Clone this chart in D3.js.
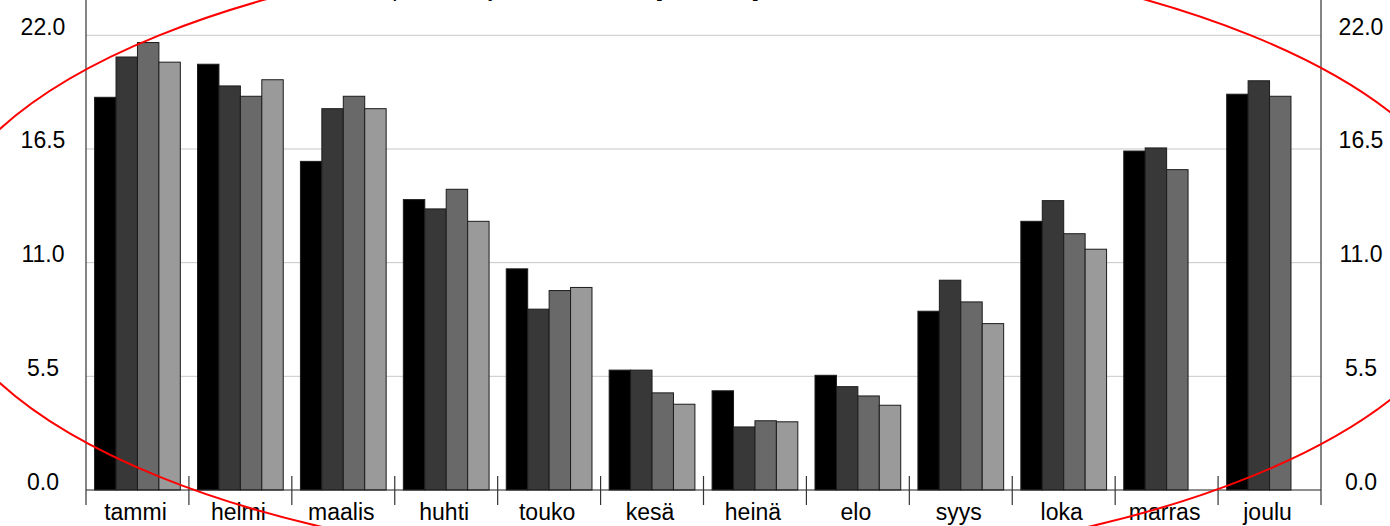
<!DOCTYPE html>
<html>
<head>
<meta charset="utf-8">
<script src="https://cdn.jsdelivr.net/npm/d3@7"></script>
<style>
  body { margin: 0; background: #fff; }
  svg { display: block; font-family: "Liberation Sans", Arial, sans-serif; }
</style>
</head>
<body>
<div id="chart"></div>
<script>
const width = 1390;
const height = 526;

const months = ["tammi", "helmi", "maalis", "huhti", "touko", "kesä",
    "heinä", "elo", "syys", "loka", "marras", "joulu"];
const seriesNames = ["s1", "s2", "s3", "s4"];
const colors = ["#000000", "#383838", "#696969", "#9a9a9a"];

// values per series, one per month (null = no bar)
const s1 = [19.0, 20.6, 15.9, 14.05, 10.7, 5.8, 4.8, 5.55, 8.65, 13.0, 16.4, 19.15];
const s2 = [20.95, 19.55, 18.45, 13.6, 8.75, 5.8, 3.05, 5.0, 10.15, 14.0, 16.55, 19.8];
const s3 = [21.65, 19.05, 19.05, 14.55, 9.65, 4.7, 3.35, 4.55, 9.1, 12.4, 15.5, 19.05];
const s4 = [20.7, 19.85, 18.45, 13.0, 9.8, 4.15, 3.3, 4.1, 8.05, 11.65, null, null];
const seriesValues = [s1, s2, s3, s4];

const yTicks = [0.0, 5.5, 11.0, 16.5, 22.0];
const titleText = "Lämmön kulutus päivässä ja kuukaudessa [MWh/vrk]";

const plotLeft = 86;
const plotRight = 1321;
const baseY = 490;

const svg = d3.select("#chart").append("svg")
    .attr("width", width)
    .attr("height", height);

const x0 = d3.scaleBand()
    .domain(months)
    .range([plotLeft, plotRight]);

const groupPad = x0.bandwidth() * 0.0835;
const x1 = d3.scaleBand()
    .domain(seriesNames)
    .range([groupPad, x0.bandwidth() - groupPad]);

const y = d3.scaleLinear()
    .domain([0, 22])
    .range([baseY, 35.3]);

// gridlines
svg.append("g")
    .selectAll("line")
    .data(yTicks.filter(d => d > 0))
    .enter().append("line")
    .attr("x1", plotLeft)
    .attr("x2", plotRight)
    .attr("y1", d => y(d))
    .attr("y2", d => y(d))
    .style("stroke", "#c8c8c8")
    .style("stroke-width", 1);

// bars
const rows = [];
seriesNames.forEach((s, si) => {
    months.forEach((m, mi) => {
        const v = seriesValues[si][mi];
        if (v != null) rows.push({ month: m, series: s, value: v, color: colors[si] });
    });
});

svg.append("g")
    .selectAll("rect")
    .data(rows)
    .enter().append("rect")
    .attr("x", d => x0(d.month) + x1(d.series))
    .attr("y", d => y(d.value))
    .attr("width", x1.bandwidth())
    .attr("height", d => y(0) - y(d.value))
    .style("fill", d => d.color)
    .style("stroke", "#1c1c1c")
    .style("stroke-width", 1);

// baseline
svg.append("line")
    .attr("x1", plotLeft).attr("x2", plotRight)
    .attr("y1", y(0)).attr("y2", y(0))
    .style("stroke", "#222")
    .style("stroke-width", 1.2);

// left and right axis lines
[plotLeft, plotRight].forEach(xp => {
    svg.append("line")
        .attr("x1", xp).attr("x2", xp)
        .attr("y1", -5).attr("y2", 505)
        .style("stroke", "#333")
        .style("stroke-width", 1.2);
});

// category boundary ticks
svg.append("g")
    .selectAll("line")
    .data(months.slice(1))
    .enter().append("line")
    .attr("x1", d => x0(d))
    .attr("x2", d => x0(d))
    .attr("y1", y(0) - 14)
    .attr("y2", 505)
    .style("stroke", "#333")
    .style("stroke-width", 1.2);

// month labels
svg.append("g")
    .selectAll("text")
    .data(months)
    .enter().append("text")
    .attr("x", d => x0(d) + x0.bandwidth() / 2 - 2)
    .attr("y", 520)
    .attr("text-anchor", "middle")
    .style("font-size", "23px")
    .style("fill", "#000")
    .text(d => d);

// y labels on both sides
const fmt = d3.format(".1f");
[43, 1361].forEach(xp => {
    svg.append("g")
        .selectAll("text")
        .data(yTicks)
        .enter().append("text")
        .attr("x", xp)
        .attr("y", d => y(d) - 0.5)
        .attr("text-anchor", "middle")
        .style("font-size", "23px")
        .style("fill", "#000")
        .text(d => fmt(d));
});

// title (sits above the visible area, only descenders show)
svg.append("text")
    .attr("x", 217)
    .attr("y", -4)
    .style("font-size", "23px")
    .style("fill", "#000")
    .text(titleText);

// red annotation ellipse
svg.append("ellipse")
    .attr("cx", 705)
    .attr("cy", 256)
    .attr("rx", 772)
    .attr("ry", 312)
    .style("fill", "none")
    .style("stroke", "#ff0000")
    .style("stroke-width", 2);
</script>
</body>
</html>
